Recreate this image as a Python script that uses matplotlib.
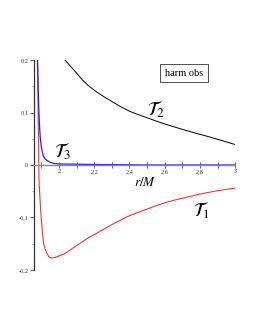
import matplotlib
matplotlib.use("Agg")
import matplotlib.pyplot as plt
from matplotlib.ticker import MultipleLocator, FuncFormatter

# T1 (red)
r1 = [1.878, 1.880, 1.883, 1.886, 1.889, 1.892, 1.896, 1.901, 1.905, 1.91, 1.915, 1.92,
      1.93, 1.94, 1.953, 1.97, 1.987, 2.005, 2.025, 2.05, 2.08, 2.12, 2.165, 2.214, 2.26,
      2.309, 2.35, 2.39, 2.45, 2.5, 2.564, 2.62, 2.68, 2.754, 2.82, 2.9, 2.95, 3.0]
t1 = [0.2, 0.13, 0.05, -0.029, -0.05, -0.067, -0.09, -0.111, -0.128, -0.143, -0.153, -0.160,
      -0.168, -0.174, -0.177, -0.1768, -0.175, -0.1725, -0.170, -0.165, -0.158, -0.149, -0.139,
      -0.130, -0.121, -0.112, -0.105, -0.098, -0.090, -0.084, -0.076, -0.070, -0.065, -0.059,
      -0.054, -0.049, -0.0465, -0.044]
# T2 (black)
r2 = [2.034, 2.06, 2.1, 2.13, 2.167, 2.21, 2.26, 2.31, 2.356, 2.403, 2.45, 2.5, 2.55,
      2.593, 2.65, 2.7, 2.782, 2.85, 2.9, 2.95, 3.0]
t2 = [0.2, 0.19, 0.175, 0.163, 0.151, 0.140, 0.129, 0.119, 0.110, 0.102, 0.096, 0.090, 0.084,
      0.079, 0.073, 0.068, 0.060, 0.054, 0.049, 0.044, 0.039]
# T3 (blue)
r3 = [1.877, 1.879, 1.881, 1.884, 1.887, 1.890, 1.893, 1.897, 1.901, 1.905, 1.91, 1.915,
      1.92, 1.93, 1.94, 1.95, 1.965, 1.98, 2.0, 2.2, 2.5, 3.0]
t3 = [0.2, 0.175, 0.15, 0.114, 0.088, 0.068, 0.053, 0.040, 0.031, 0.025, 0.018, 0.015,
      0.012, 0.009, 0.007, 0.005, 0.0035, 0.0025, 0.002, 0.001, 0.0, 0.0]

xticks = [2.0, 2.2, 2.4, 2.6, 2.8, 3.0]
yticks = [-0.2, -0.1, 0.0, 0.1, 0.2]

plt.rcParams['mathtext.fontset'] = 'stix'
serif = 'Liberation Serif'

fig = plt.figure(figsize=(2.55, 3.3), dpi=100)
ax = fig.add_axes([0.133, 0.182, 0.789, 0.636])
ax.set_xlim(1.857, 3.0)
ax.set_ylim(-0.2, 0.2)

ax.plot(r2, t2, color='black', lw=0.7)
ax.plot(r1, t1, color='#ff3030', lw=0.8)
ax.plot(r3, t3, color='#2020ff', lw=0.9)

for s in ['top', 'right']:
    ax.spines[s].set_visible(False)
ax.spines['bottom'].set_position(('data', 0))
ax.spines['bottom'].set_color('#888888')
ax.spines['bottom'].set_linewidth(1.0)
ax.spines['left'].set_color('#333333')
ax.spines['left'].set_linewidth(0.9)

fmt = FuncFormatter(lambda v, p: ('%g' % round(v, 2)).replace('.', ','))
ax.set_xticks(xticks)
ax.set_yticks(yticks)
ax.xaxis.set_major_formatter(fmt)
ax.yaxis.set_major_formatter(fmt)
ax.xaxis.set_minor_locator(MultipleLocator(0.1))
ax.yaxis.set_minor_locator(MultipleLocator(0.05))
ax.tick_params(axis='x', which='both', direction='inout', length=4, width=0.6,
               color='#555555', labelsize=4.5, pad=1, labelcolor='#333333')
ax.tick_params(axis='y', which='major', direction='out', length=3, width=0.6,
               color='#555555', labelsize=4.5, pad=1, labelcolor='#333333')
ax.tick_params(axis='y', which='minor', direction='out', length=1.5, width=0.5, color='#888888')
for lab in ax.get_xticklabels() + ax.get_yticklabels():
    lab.set_fontfamily(serif)

ax.text(2.49, -0.021, r'$r/M$', fontsize=9.5, ha='center', va='top')

ax.text(2.55, 0.107, r'$\mathcal{T}_2$', fontsize=13.5, ha='center', va='center')
ax.text(2.02, 0.027, r'$\mathcal{T}_3$', fontsize=13.5, ha='center', va='center')
ax.text(2.81, -0.086, r'$\mathcal{T}_1$', fontsize=13.5, ha='center', va='center')

ax.text(2.71, 0.175, 'harm obs', fontsize=7.5, family=serif, ha='center', va='center',
        bbox=dict(boxstyle='square,pad=0.45', fc='white', ec='#333333', lw=0.6))

fig.savefig('out.png', dpi=100)
